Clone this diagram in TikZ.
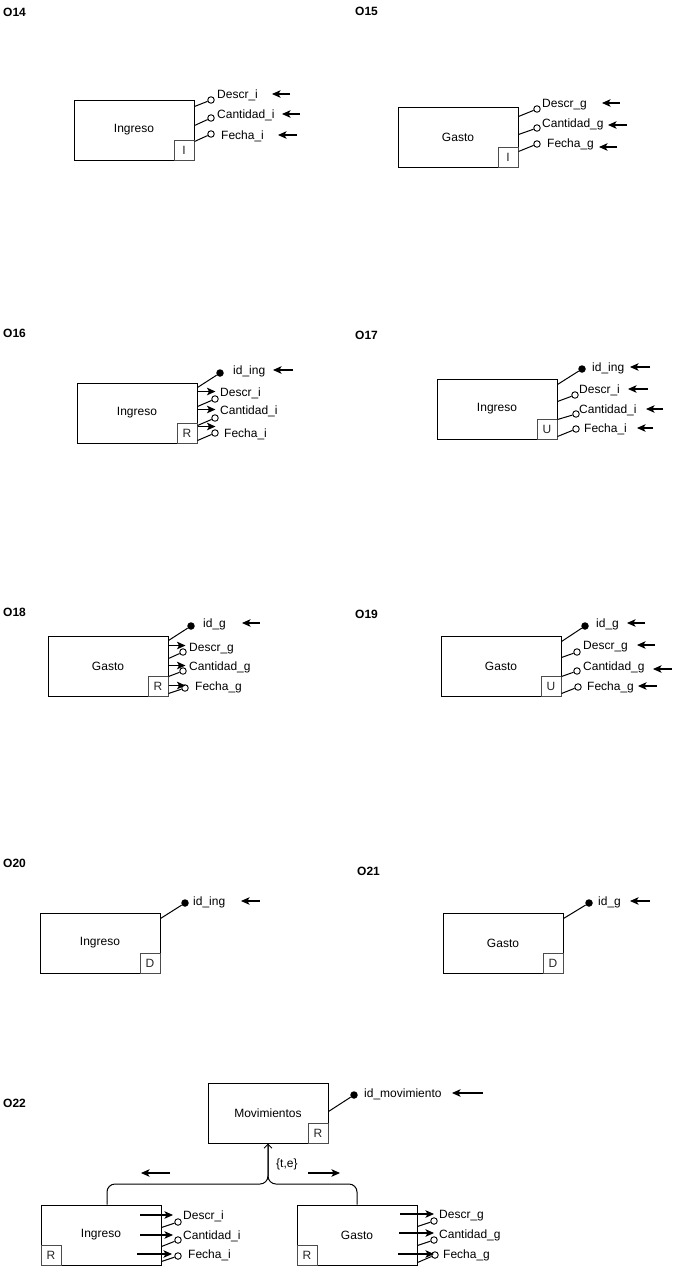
\documentclass[tikz,border=0pt]{standalone}
\usepackage{fontspec}
\setmainfont{Liberation Sans}
\usetikzlibrary{arrows.meta}

\begin{document}
\begin{tikzpicture}[x=1pt, y=-1pt, font=\fontsize{12}{14}\selectfont,
  ent/.style={draw, line width=1pt, minimum width=120pt, minimum height=60pt, inner sep=0pt},
  opbox/.style={draw=black!70, line width=0.9pt, minimum size=20pt, inner sep=0pt, text=black!85},
  attr/.style={anchor=west, inner sep=0pt, text height=8.6pt, text depth=0pt},
  tag/.style={anchor=west, inner sep=0pt, text height=8.6pt, text depth=0pt, font=\fontsize{12}{14}\selectfont\bfseries},
  opn/.style={circle, draw, fill=white, line width=0.9pt, minimum size=6.5pt, inner sep=0pt},
  key/.style={circle, fill=black, minimum size=7.5pt, inner sep=0pt},
  link/.style={line width=1pt},
  flow/.style={-{Stealth[length=8.5pt,width=7.5pt,inset=2pt]}, line width=1.1pt}]

\useasboundingbox (0,0) rectangle (681,1272);

% O14: insert Ingreso
\node[tag] (t14) at (3,12) {O14};
\node[ent] (i14) at (134,130) {Ingreso};
\node[opbox, anchor=south east] (o14) at (i14.south east) {I};
\node[opn] (d14) at (211,100) {};
\node[opn] (c14) at (211,118) {};
\node[opn] (f14) at (211,134) {};
\draw[link] (i14.north east) ++(0,7) -- (d14);
\draw[link] (i14.north east) ++(0,26) -- (c14);
\draw[link] (i14.north east) ++(0,42) -- (f14);
\node[attr] (ld14) at (217,94) {Descr\_i};
\node[attr] (lc14) at (217,114) {Cantidad\_i};
\node[attr] (lf14) at (221,135) {Fecha\_i};
\draw[flow] (290,94) -- (272,94);
\draw[flow] (300,114) -- (282,114);
\draw[flow] (297,135) -- (278,135);

% O15: insert Gasto
\node[tag] (t15) at (355,11) {O15};
\node[ent] (g15) at (458,137) {Gasto};
\node[opbox, anchor=south east] (o15) at (g15.south east) {I};
\node[opn] (d15) at (537,109) {};
\node[opn] (c15) at (537,128) {};
\node[opn] (f15) at (537,144) {};
\draw[link] (g15.north east) ++(0,10) -- (d15);
\draw[link] (g15.north east) ++(0,28) -- (c15);
\draw[link] (g15.north east) ++(0,45) -- (f15);
\node[attr] (ld15) at (542,103) {Descr\_g};
\node[attr] (lc15) at (542,123) {Cantidad\_g};
\node[attr] (lf15) at (547,143) {Fecha\_g};
\draw[flow] (620,103) -- (602,103);
\draw[flow] (627,125) -- (608,125);
\draw[flow] (617,147) -- (599,147);

% O16: read Ingreso
\node[tag] (t16) at (3,333) {O16};
\node[ent] (i16) at (137,413) {Ingreso};
\node[opbox, anchor=south east] (o16) at (i16.south east) {R};
\node[key] (k16) at (220,373) {};
\draw[link] (i16.north east) ++(0,5) -- (k16);
\node[attr] (lk16) at (233,370) {id\_ing};
\draw[flow] (293,370) -- (273,370);
\node[opn] (d16) at (215,399) {};
\node[opn] (c16) at (215,418) {};
\node[opn] (f16) at (215,433) {};
\draw[flow] (i16.north east) ++(0,9) -- ++(18,0);
\draw[flow] (i16.north east) ++(0,27) -- ++(18,0);
\draw[flow] (i16.north east) ++(0,44) -- ++(18,0);
\draw[link] (i16.north east) ++(0,24) -- (d16);
\draw[link] (i16.north east) ++(0,43) -- (c16);
\draw[link] (i16.north east) ++(0,58) -- (f16);
\node[attr] (ld16) at (220,392) {Descr\_i};
\node[attr] (lc16) at (220,410) {Cantidad\_i};
\node[attr] (lf16) at (224,433) {Fecha\_i};

% O17: update Ingreso
\node[tag] (t17) at (355,335) {O17};
\node[ent] (i17) at (497,409) {Ingreso};
\node[opbox, anchor=south east] (o17) at (i17.south east) {U};
\node[key] (k17) at (582,369) {};
\node[opn] (d17) at (575,395) {};
\node[opn] (c17) at (576,414) {};
\node[opn] (f17) at (576,429) {};
\draw[link] (i17.north east) ++(0,6) -- (k17);
\draw[link] (i17.north east) ++(0,23) -- (d17);
\draw[link] (i17.north east) ++(0,41) -- (c17);
\draw[link] (i17.north east) ++(0,58) -- (f17);
\node[attr] (lk17) at (592,367) {id\_ing};
\node[attr] (ld17) at (579,389) {Descr\_i};
\node[attr] (lc17) at (579,409) {Cantidad\_i};
\node[attr] (lf17) at (584,428) {Fecha\_i};
\draw[flow] (650,367) -- (630,367);
\draw[flow] (648,389) -- (628,389);
\draw[flow] (663,409) -- (646,409);
\draw[flow] (653,428) -- (637,428);

% O18: read Gasto
\node[tag] (t18) at (3,612) {O18};
\node[ent] (g18) at (108,666) {Gasto};
\node[opbox, anchor=south east] (o18) at (g18.south east) {R};
\node[key] (k18) at (191,626) {};
\draw[link] (g18.north east) ++(0,5) -- (k18);
\node[attr] (lk18) at (203,623) {id\_g};
\draw[flow] (260,623) -- (242,623);
\node[opn] (d18) at (183,652) {};
\node[opn] (c18) at (183,671) {};
\node[opn] (f18) at (185,688) {};
\draw[flow] (g18.north east) ++(0,10) -- ++(17,0);
\draw[flow] (g18.north east) ++(0,30) -- ++(17,0);
\draw[flow] (g18.north east) ++(0,50) -- ++(17,0);
\draw[link] (g18.north east) ++(0,23) -- (d18);
\draw[link] (g18.north east) ++(0,41) -- (c18);
\draw[link] (g18.north east) ++(0,58) -- (f18);
\node[attr] (ld18) at (189,647) {Descr\_g};
\node[attr] (lc18) at (189,666) {Cantidad\_g};
\node[attr] (lf18) at (195,686) {Fecha\_g};

% O19: update Gasto
\node[tag] (t19) at (355,614) {O19};
\node[ent] (g19) at (501,666) {Gasto};
\node[opbox, anchor=south east] (o19) at (g19.south east) {U};
\node[key] (k19) at (585,626) {};
\node[opn] (d19) at (577,652) {};
\node[opn] (c19) at (577,671) {};
\node[opn] (f19) at (578,687) {};
\draw[link] (g19.north east) ++(0,6) -- (k19);
\draw[link] (g19.north east) ++(0,22) -- (d19);
\draw[link] (g19.north east) ++(0,41) -- (c19);
\draw[link] (g19.north east) ++(0,58) -- (f19);
\node[attr] (lk19) at (596,623) {id\_g};
\node[attr] (ld19) at (583,645) {Descr\_g};
\node[attr] (lc19) at (583,666) {Cantidad\_g};
\node[attr] (lf19) at (587,686) {Fecha\_g};
\draw[flow] (645,623) -- (627,623);
\draw[flow] (655,645) -- (637,645);
\draw[flow] (672,669) -- (653,669);
\draw[flow] (657,686) -- (638,686);

% O20 and O21: delete
\node[tag] (t20) at (3,863) {O20};
\node[ent] (i20) at (100,943) {Ingreso};
\node[opbox, anchor=south east] (o20) at (i20.south east) {D};
\node[key] (k20) at (185,903) {};
\draw[link] (i20.north east) ++(0,6) -- (k20);
\node[attr] (lk20) at (193,901) {id\_ing};
\draw[flow] (260,901) -- (241,901);

\node[tag] (t21) at (357,871) {O21};
\node[ent] (g21) at (503,943) {Gasto};
\node[opbox, anchor=south east] (o21) at (g21.south east) {D};
\node[key] (k21) at (589,903) {};
\draw[link] (g21.north east) ++(0,6) -- (k21);
\node[attr] (lk21) at (598,901) {id\_g};
\draw[flow] (650,901) -- (630,901);

% O22: read Movimientos
\node[tag] (t22) at (3,1103) {O22};
\node[ent] (mov) at (268,1113) {Movimientos};
\node[opbox, anchor=south east] (o22) at (mov.south east) {R};
\node[key] (k22) at (354,1095) {};
\draw[link] (mov.north east) ++(0,29) -- (k22);
\node[attr] (lk22) at (364,1093) {id\_movimiento};
\draw[flow] (483,1093) -- (452,1093);

\node[ent] (i22) at (101,1235) {Ingreso};
\node[opbox, anchor=south west] (oi22) at (i22.south west) {R};
\node[ent] (g22) at (357,1235) {Gasto};
\node[opbox, anchor=south west] (og22) at (g22.south west) {R};

% generalization {t,e}
\coordinate (jn) at (268,1184);
\draw[link, rounded corners=8pt] (g22.north) |- (jn) -- (mov.south);
\draw[link, rounded corners=8pt, -{Straight Barb[length=4pt,width=8pt]}] (i22.north) ++(6,0) |- (jn) -- (mov.south);
\node[attr] (te) at (276,1163) {\{t,e\}};
\draw[flow] (170,1173) -- (141,1173);
\draw[flow] (308,1173) -- (340,1173);

\node[opn] (d22) at (178,1222) {};
\node[opn] (c22) at (178,1240) {};
\node[opn] (f22) at (178,1256) {};
\draw[flow] (140,1215) -- (173,1215);
\draw[flow] (140,1235) -- (173,1235);
\draw[flow] (137,1254) -- (172,1254);
\draw[link] (i22.north east) ++(0,23) -- (d22);
\draw[link] (i22.north east) ++(0,42) -- (c22);
\draw[link] (i22.north east) ++(0,57) -- (f22);
\node[attr] (ld22) at (183,1215) {Descr\_i};
\node[attr] (lc22) at (183,1235) {Cantidad\_i};
\node[attr] (lf22) at (188,1254) {Fecha\_i};

\node[opn] (e22) at (434,1221) {};
\node[opn] (q22) at (434,1240) {};
\node[opn] (h22) at (435,1255) {};
\draw[flow] (400,1214) -- (434,1214);
\draw[flow] (399,1233) -- (434,1233);
\draw[flow] (398,1254) -- (434,1254);
\draw[link] (g22.north east) ++(0,22) -- (e22);
\draw[link] (g22.north east) ++(0,41) -- (q22);
\draw[link] (g22.north east) ++(0,58) -- (h22);
\node[attr] (le22) at (439,1214) {Descr\_g};
\node[attr] (lq22) at (439,1234) {Cantidad\_g};
\node[attr] (lh22) at (443,1254) {Fecha\_g};

\end{tikzpicture}
\end{document}
